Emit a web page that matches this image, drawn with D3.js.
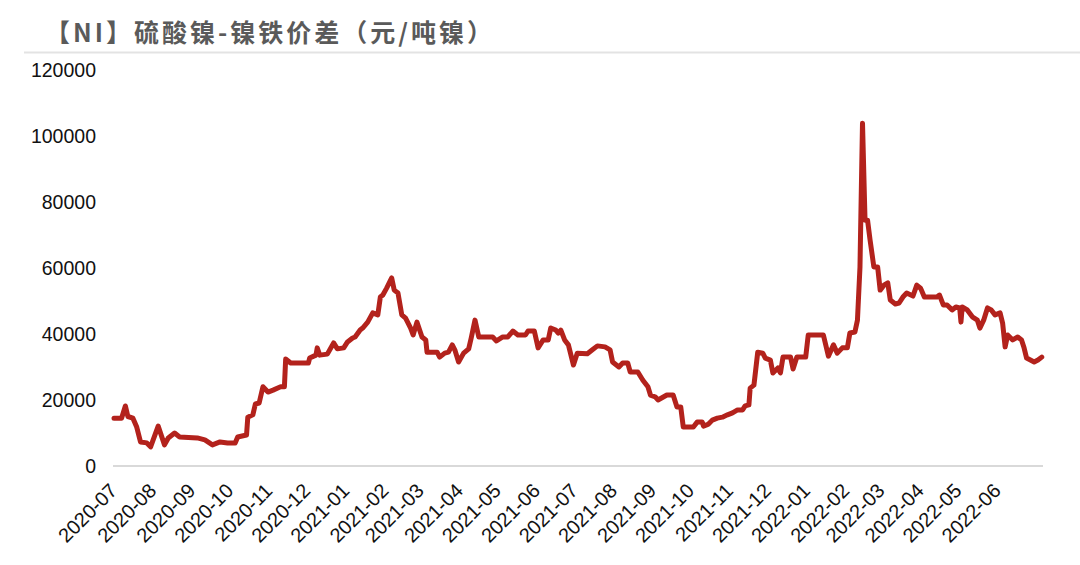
<!DOCTYPE html>
<html><head><meta charset="utf-8">
<script src="https://cdn.jsdelivr.net/npm/d3@7"></script>
<style>html,body{margin:0;padding:0;background:#fff;}svg{display:block;}</style>
</head><body>
<svg id="chart" width="1080" height="565"></svg>
<script>
const title = "【NI】硫酸镍-镍铁价差（元/吨镍）";
const yTicks = [0, 20000, 40000, 60000, 80000, 100000, 120000];
const xTickLabels = ["2020-07","2020-08","2020-09","2020-10","2020-11","2020-12","2021-01","2021-02","2021-03","2021-04","2021-05","2021-06","2021-07","2021-08","2021-09","2021-10","2021-11","2021-12","2022-01","2022-02","2022-03","2022-04","2022-05","2022-06"];
const dates = ["2020-07-01","2020-07-07","2020-07-10","2020-07-12","2020-07-16","2020-07-19","2020-07-22","2020-07-27","2020-07-30","2020-08-05","2020-08-10","2020-08-13","2020-08-18","2020-08-22","2020-09-05","2020-09-11","2020-09-17","2020-09-23","2020-09-29","2020-10-05","2020-10-07","2020-10-14","2020-10-15","2020-10-19","2020-10-21","2020-10-24","2020-10-27","2020-10-31","2020-11-04","2020-11-10","2020-11-13","2020-11-14","2020-11-18","2020-12-02","2020-12-03","2020-12-08","2020-12-09","2020-12-11","2020-12-17","2020-12-22","2020-12-25","2020-12-30","2021-01-02","2021-01-06","2021-01-08","2021-01-12","2021-01-14","2021-01-18","2021-01-22","2021-01-26","2021-01-28","2021-01-30","2021-02-02","2021-02-06","2021-02-08","2021-02-11","2021-02-14","2021-02-17","2021-02-21","2021-02-23","2021-02-26","2021-03-02","2021-03-05","2021-03-06","2021-03-14","2021-03-16","2021-03-20","2021-03-23","2021-03-26","2021-03-28","2021-03-31","2021-04-04","2021-04-08","2021-04-10","2021-04-13","2021-04-16","2021-04-27","2021-04-30","2021-05-05","2021-05-09","2021-05-13","2021-05-17","2021-05-23","2021-05-25","2021-05-30","2021-06-02","2021-06-06","2021-06-10","2021-06-12","2021-06-16","2021-06-18","2021-06-20","2021-06-23","2021-06-26","2021-06-30","2021-07-03","2021-07-11","2021-07-15","2021-07-19","2021-07-25","2021-07-29","2021-07-31","2021-08-05","2021-08-08","2021-08-12","2021-08-14","2021-08-20","2021-08-24","2021-08-28","2021-08-30","2021-09-03","2021-09-05","2021-09-12","2021-09-17","2021-09-20","2021-09-23","2021-09-25","2021-10-03","2021-10-06","2021-10-10","2021-10-11","2021-10-15","2021-10-18","2021-10-22","2021-10-26","2021-10-30","2021-11-03","2021-11-07","2021-11-11","2021-11-13","2021-11-16","2021-11-17","2021-11-20","2021-11-23","2021-11-27","2021-11-29","2021-12-03","2021-12-05","2021-12-09","2021-12-11","2021-12-13","2021-12-19","2021-12-21","2021-12-24","2021-12-31","2022-01-02","2022-01-14","2022-01-18","2022-01-22","2022-01-25","2022-01-29","2022-02-02","2022-02-04","2022-02-08","2022-02-10","2022-02-12","2022-02-14","2022-02-16","2022-02-18","2022-02-20","2022-02-23","2022-02-26","2022-02-28","2022-03-03","2022-03-06","2022-03-08","2022-03-12","2022-03-15","2022-03-18","2022-03-21","2022-03-26","2022-03-29","2022-04-01","2022-04-04","2022-04-14","2022-04-16","2022-04-19","2022-04-22","2022-04-26","2022-04-29","2022-05-02","2022-05-03","2022-05-04","2022-05-08","2022-05-12","2022-05-16","2022-05-18","2022-05-21","2022-05-24","2022-05-27","2022-05-30","2022-06-03","2022-06-05","2022-06-07","2022-06-09","2022-06-13","2022-06-17","2022-06-20","2022-06-22","2022-06-24","2022-06-27","2022-06-30","2022-07-03","2022-07-06"];
const values = [14500,14500,18200,15000,14500,11800,7300,7000,5800,12100,6400,8500,10000,8800,8500,7900,6400,7300,7000,7000,8800,9400,14800,15500,18800,19100,24000,22400,23000,24000,24000,32400,31200,31200,32700,33600,35800,33600,33900,37300,35500,35800,37600,38800,39100,41200,41800,43600,46400,45800,51200,51800,53900,57000,53300,52400,45800,44800,41800,39700,43600,39100,38200,34500,34500,33000,34200,34500,36700,35200,31500,34200,35500,38800,44200,39100,39100,37900,39100,39100,40900,39700,39700,40900,40900,35800,38200,38200,41800,41200,40300,41200,38200,36700,30600,34200,34000,35200,36400,36100,35200,31500,30000,31200,31200,28500,28500,26000,24000,21500,20900,20000,21500,21500,17900,17900,11800,11800,13300,13300,12100,12700,13900,14500,14800,15500,16100,17000,17000,18200,18500,23600,24500,34500,34200,32700,32100,28200,29700,28200,33000,33000,29400,33000,33000,39700,39700,33300,36700,34200,35800,35800,40300,40600,44200,60300,103900,74500,74500,68500,60300,60300,53300,54800,55500,50300,49100,49400,51200,52400,51500,54800,53900,51200,51200,51800,48800,48800,47300,48200,47900,43600,48200,47300,45200,44200,41800,44200,47900,47300,45800,46400,43300,36100,39700,38200,39100,38200,35800,32700,32100,31500,32100,33000];

const parse = d3.timeParse("%Y-%m-%d");
const data = dates.map((d, i) => ({ date: parse(d), value: values[i] }));

const svg = d3.select("#chart");
const font = "'Liberation Sans', Arial, Helvetica, sans-serif";

// title
svg.append("text")
  .attr("x", 45).attr("y", 42)
  .attr("font-family", "'Noto Sans CJK SC', sans-serif")
  .attr("font-weight", "bold")
  .attr("font-size", 25)
  .attr("letter-spacing", 3)
  .attr("fill", "#5a5a5a")
  .text(title);
svg.append("line")
  .attr("x1", 24).attr("x2", 1080).attr("y1", 52.5).attr("y2", 52.5)
  .attr("stroke", "#e3e3e3").attr("stroke-width", 2);

const x = d3.scaleTime()
  .domain([parse("2020-07-01"), parse("2022-07-07")])
  .range([114, 1043]);
const y = d3.scaleLinear().domain([0, 120000]).range([466, 70]);

// y axis labels
const yAxis = d3.axisLeft(y).tickValues(yTicks).tickSize(0).tickPadding(0).tickFormat(d3.format("d"));
const gy = svg.append("g").attr("transform", "translate(96,0)").call(yAxis);
gy.select(".domain").remove();
gy.selectAll("text").attr("font-family", font).attr("font-size", 19.5).attr("fill", "#111").attr("dy", "0.35em");

// x axis
const monthTicks = xTickLabels.map(s => parse(s + "-01"));
const xAxis = d3.axisBottom(x).tickValues(monthTicks).tickSize(0).tickPadding(0)
  .tickFormat((d, i) => xTickLabels[i]);
const gx = svg.append("g").attr("transform", "translate(0,466)").call(xAxis);
gx.select(".domain").attr("stroke", "#d9d9d9").attr("stroke-width", 2)
  .attr("d", `M${113},0H${1043}`);
gx.selectAll("text")
  .attr("font-family", font).attr("font-size", 20).attr("fill", "#111")
  .attr("text-anchor", "end").attr("y", 0).attr("dy", "0.35em")
  .attr("transform", "translate(-1,21) rotate(-45)");

// line
const line = d3.line().x(d => x(d.date)).y(d => y(d.value)).curve(d3.curveLinear);
svg.append("path").datum(data)
  .attr("d", line)
  .attr("fill", "none")
  .attr("stroke", "#b3221c")
  .attr("stroke-width", 5)
  .attr("stroke-linejoin", "round")
  .attr("stroke-linecap", "round");
</script>
</body></html>
